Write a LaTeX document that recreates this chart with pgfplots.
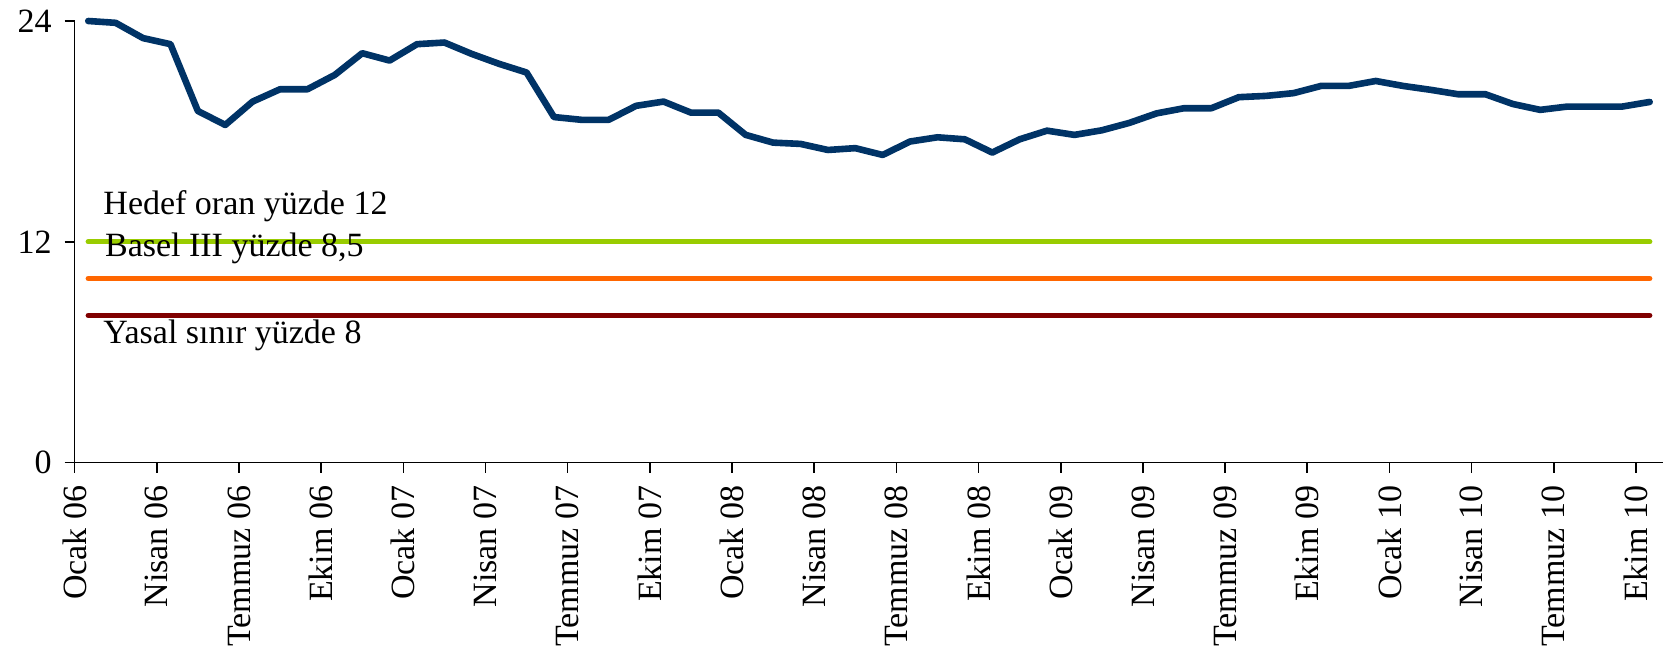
\documentclass[border=0pt]{standalone}
\usepackage{fontspec}
\setmainfont{Liberation Serif}
\usepackage{pgfplots}
\pgfplotsset{compat=1.18}
\definecolor{lineblue}{RGB}{0,51,102}
\definecolor{hgreen}{RGB}{153,204,0}
\definecolor{horange}{RGB}{255,102,0}
\definecolor{hred}{RGB}{128,0,0}
\begin{document}
\begin{tikzpicture}
\path[use as bounding box] (-37.3pt,-95.15pt) rectangle (794.9pt,231.35pt);
\begin{axis}[
  at={(0,0)}, anchor=south west,
  width=794.6pt, height=220.85pt, scale only axis,
  xmin=0, xmax=58, ymin=0, ymax=24,
  axis x line=bottom, axis y line=left,
  axis line style={-, line width=0.8pt, black},
  ytick={0,12,24},
  xtick={0,3,...,57},
  xticklabels={Ocak 06,Nisan 06,Temmuz 06,Ekim 06,Ocak 07,Nisan 07,Temmuz 07,Ekim 07,Ocak 08,Nisan 08,Temmuz 08,Ekim 08,Ocak 09,Nisan 09,Temmuz 09,Ekim 09,Ocak 10,Nisan 10,Temmuz 10,Ekim 10},
  xticklabel style={yshift=-3pt, rotate=90, anchor=east},
  yticklabel style={xshift=-3pt},
  tick style={black, line width=0.8pt},
  tick align=outside, major tick length=5pt,
  ticklabel style={font=\fontsize{17}{20}\selectfont},
  /pgf/number format/assume math mode=true,
  clip=false,
]
\addplot[hgreen, line width=2.7pt, line cap=round] coordinates {(0.5,12) (57.5,12)};
\addplot[horange, line width=2.7pt, line cap=round] coordinates {(0.5,10) (57.5,10)};
\addplot[hred, line width=2.7pt, line cap=round] coordinates {(0.5,8) (57.5,8)};
\addplot[lineblue, line width=3.3pt, line join=round, line cap=round] coordinates {
(0.5,24.0) (1.5,23.9) (2.5,23.07) (3.5,22.74) (4.5,19.11) (5.5,18.35) (6.5,19.62) (7.5,20.29) (8.5,20.29) (9.5,21.07)
(10.5,22.25) (11.5,21.85) (12.5,22.74) (13.5,22.83) (14.5,22.21) (15.5,21.67) (16.5,21.2) (17.5,18.78) (18.5,18.63) (19.5,18.63)
(20.5,19.39) (21.5,19.62) (22.5,19.02) (23.5,19.02) (24.5,17.81) (25.5,17.39) (26.5,17.32) (27.5,16.99) (28.5,17.09) (29.5,16.72)
(30.5,17.45) (31.5,17.68) (32.5,17.57) (33.5,16.85) (34.5,17.57) (35.5,18.04) (36.5,17.81) (37.5,18.06) (38.5,18.46) (39.5,18.98)
(40.5,19.26) (41.5,19.26) (42.5,19.86) (43.5,19.93) (44.5,20.08) (45.5,20.47) (46.5,20.47) (47.5,20.74) (48.5,20.47) (49.5,20.26)
(50.5,20.02) (51.5,20.02) (52.5,19.49) (53.5,19.17) (54.5,19.35) (55.5,19.35) (56.5,19.35) (57.5,19.6)
};
\node[anchor=base west, inner sep=0pt, font=\fontsize{17}{20}\selectfont] at (axis cs:1.04,13.46) {Hedef oran yüzde 12};
\node[anchor=base west, inner sep=0pt, font=\fontsize{17}{20}\selectfont] at (axis cs:1.1,11.2) {Basel III yüzde 8,5};
\node[anchor=base west, inner sep=0pt, font=\fontsize{17}{20}\selectfont] at (axis cs:1.04,6.45) {Yasal sınır yüzde 8};
\end{axis}
\end{tikzpicture}
\end{document}
